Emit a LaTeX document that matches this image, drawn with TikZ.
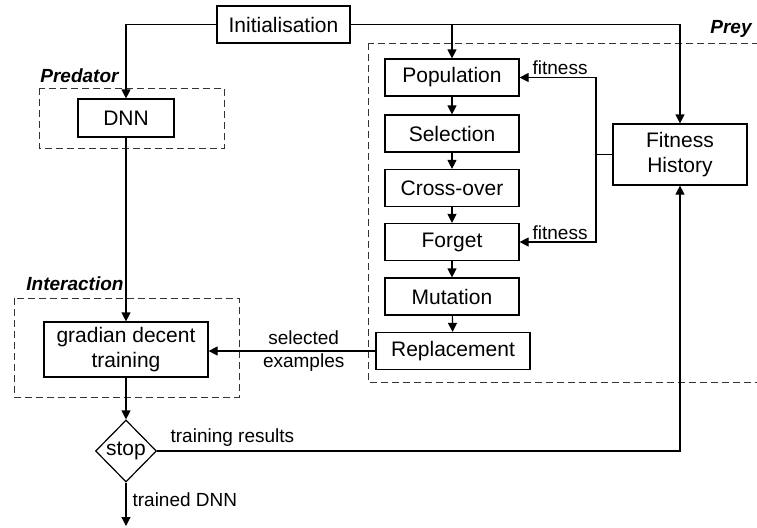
\documentclass[tikz,border=0pt]{standalone}
\usepackage{fontspec}
\setmainfont{Liberation Sans}
\usetikzlibrary{arrows.meta, shapes.geometric}

\begin{document}
\begin{tikzpicture}[
    x=0.5pt, y=-0.5pt,
    every node/.style={font=\fontsize{10.5}{12.8}\selectfont},
    block/.style={rectangle, draw, line width=0.6pt, inner sep=0pt,
                  minimum width=67pt, minimum height=18.5pt, align=center},
    decision/.style={diamond, draw, line width=0.6pt, inner sep=0pt,
                     minimum width=30.5pt, minimum height=31pt},
    group/.style={draw=black!80, dash pattern=on 3.5pt off 2pt, line width=0.5pt},
    grouplabel/.style={font=\fontsize{9.5}{11}\selectfont\bfseries\itshape, inner sep=0pt},
    lbl/.style={font=\fontsize{9.5}{11.4}\selectfont, align=center, inner sep=1pt},
    arr/.style={-{Triangle[length=4.5pt, width=4.5pt]}, line width=0.6pt},
]
\useasboundingbox (0,0) rectangle (757,527);

% Dashed groups for predator, interaction and prey
\draw[group] (39,88) rectangle (224,148);
\draw[group] (14,298) rectangle (239,397);
\draw[group] (368,43) rectangle (780,382);
\node[grouplabel, anchor=base west] (predlbl) at (40,82) {Predator};
\node[grouplabel, anchor=base west] (interlbl) at (26,290) {Interaction};
\node[grouplabel, anchor=base east] (preylbl) at (752,33) {Prey};

% Predator side
\node[block, minimum width=66.5pt] (init) at (283.5,24.5) {Initialisation};
\node[block, minimum width=48pt, minimum height=19pt] (dnn) at (126,118) {DNN};
\node[block, minimum width=82pt, minimum height=27.5pt] (grad) at (126,349.5)
    {gradian decent\\training};
\node[decision] (stop) at (126,451) {stop};
\coordinate (done) at (126,526);

% Prey side: the evolutionary loop
\node[block] (pop) at (452,77.5) {Population};
\node[block] (sel) at (452,133.5) {Selection};
\node[block] (cross) at (452,188) {Cross-over};
\node[block] (forget) at (452,242) {Forget};
\node[block] (mut) at (452,296.5) {Mutation};
\node[block, minimum width=77pt] (repl) at (453,351) {Replacement};
\node[block, minimum height=30.5pt] (fithist) at (680,154.5) {Fitness\\History};
\coordinate (fbsplit) at (596,154.5);

\foreach \a/\b in {pop/sel, sel/cross, cross/forget, forget/mut, mut/repl} {
    \draw[arr] (\a) -- (\b);
}

% Connectors
\draw[arr] (init.west) -| (dnn.north);
\draw[arr] (init.east) -| (fithist.north);
\draw[arr] (init.east -| pop.north) -- (pop.north);
\draw[arr] (dnn) -- (grad);
\draw[arr] (grad) -- (stop);
\draw[arr] (stop) -- (done)
    node[lbl, pos=0.4, anchor=west, xshift=2pt] (trainedlbl) {trained DNN};
\draw[arr] (stop.east) -| (fithist.south)
    node[lbl, pos=0.072, anchor=south, yshift=1pt] (reslbl) {training results};
\draw[line width=0.6pt] (fithist.west) -- (fbsplit);
\draw[arr] (fbsplit) |- (pop.east)
    node[lbl, pos=0.735, anchor=south] (fitlbla) {fitness};
\draw[arr] (fbsplit) |- (forget.east)
    node[lbl, pos=0.735, anchor=south] (fitlblb) {fitness};
\draw[arr] (repl.west) -- (repl.west -| grad.east)
    node[lbl, pos=0.43] (sellbl) {selected\\examples};

\end{tikzpicture}
\end{document}
